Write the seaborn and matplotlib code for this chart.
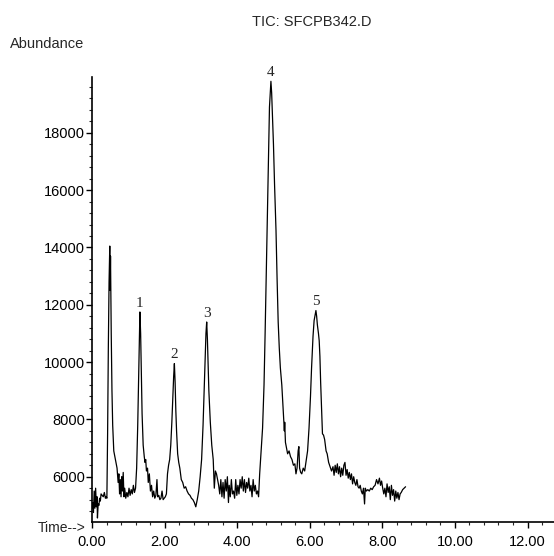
import numpy as np
import pandas as pd
import seaborn as sns
import matplotlib.pyplot as plt
from matplotlib.ticker import MultipleLocator, FormatStrFormatter

# TIC chromatogram (time in min, abundance in counts)
time = [
    0.00, 0.02, 0.04, 0.06, 0.08, 0.10, 0.12, 0.14, 0.15, 0.17, 0.19, 0.21, 0.23, 0.25, 0.28,
    0.31, 0.34, 0.37, 0.39, 0.41, 0.43, 0.45, 0.47, 0.49, 0.50, 0.51, 0.53, 0.55, 0.57, 0.60,
    0.63, 0.66, 0.69, 0.72, 0.74, 0.76, 0.78, 0.80, 0.82, 0.84, 0.86, 0.88, 0.90, 0.93, 0.96,
    0.99, 1.02, 1.05, 1.08, 1.11, 1.14, 1.17, 1.20, 1.23, 1.26, 1.29, 1.31, 1.32, 1.34, 1.36,
    1.38, 1.41, 1.44, 1.46, 1.48, 1.50, 1.53, 1.55, 1.58, 1.61, 1.64, 1.67, 1.70, 1.73, 1.76,
    1.79, 1.81, 1.84, 1.87, 1.90, 1.93, 1.96, 1.99, 2.02, 2.05, 2.08, 2.11, 2.14, 2.17, 2.20,
    2.23, 2.25, 2.27, 2.29, 2.31, 2.33, 2.36, 2.39, 2.42, 2.46, 2.50, 2.54, 2.58, 2.62, 2.66,
    2.70, 2.74, 2.78, 2.82, 2.86, 2.90, 2.94, 2.98, 3.02, 3.06, 3.10, 3.14, 3.16, 3.18, 3.22,
    3.26, 3.30, 3.34, 3.37, 3.40, 3.43, 3.46, 3.49, 3.52, 3.55, 3.58, 3.61, 3.64, 3.67, 3.70,
    3.73, 3.76, 3.78, 3.81, 3.84, 3.87, 3.90, 3.93, 3.96, 3.99, 4.02, 4.05, 4.08, 4.11, 4.14,
    4.17, 4.20, 4.23, 4.26, 4.29, 4.32, 4.35, 4.38, 4.41, 4.44, 4.47, 4.50, 4.53, 4.56, 4.59,
    4.62, 4.66, 4.70, 4.74, 4.77, 4.80, 4.83, 4.86, 4.89, 4.93, 4.95, 4.97, 5.00, 5.03, 5.07,
    5.10, 5.13, 5.16, 5.19, 5.23, 5.26, 5.28, 5.30, 5.31, 5.33, 5.36, 5.39, 5.43, 5.47, 5.51,
    5.55, 5.59, 5.62, 5.65, 5.68, 5.70, 5.72, 5.75, 5.78, 5.82, 5.86, 5.90, 5.94, 5.98, 6.02,
    6.05, 6.09, 6.12, 6.17, 6.19, 6.21, 6.24, 6.26, 6.28, 6.30, 6.33, 6.35, 6.38, 6.41, 6.45,
    6.48, 6.52, 6.56, 6.60, 6.64, 6.67, 6.70, 6.73, 6.76, 6.79, 6.82, 6.85, 6.88, 6.91, 6.94,
    6.97, 7.00, 7.03, 7.06, 7.09, 7.12, 7.15, 7.18, 7.21, 7.24, 7.27, 7.30, 7.33, 7.36, 7.39,
    7.42, 7.45, 7.48, 7.51, 7.53, 7.56, 7.60, 7.64, 7.68, 7.72, 7.76, 7.80, 7.84, 7.88, 7.92,
    7.95, 7.98, 8.01, 8.04, 8.07, 8.10, 8.13, 8.16, 8.19, 8.22, 8.25, 8.28, 8.31, 8.34, 8.37,
    8.40, 8.43, 8.46, 8.49, 8.52, 8.56, 8.60, 8.64,
]
abundance = [
    4900, 5100, 4750, 5500, 4900, 5600, 4950, 5300, 4560, 5050, 5000, 5250, 5150, 5400, 5350,
    5300, 5450, 5250, 5300, 5250, 7500, 10500, 12800, 14050, 12500, 13700, 11000, 9000, 7800, 6900,
    6700, 6500, 6300, 5800, 6100, 5400, 5900, 5300, 6000, 5500, 6150, 5300, 5600, 5250, 5450,
    5300, 5600, 5350, 5550, 5400, 5700, 5450, 5600, 6300, 7800, 9800, 11200, 11750, 11000, 9500,
    8200, 7100, 6700, 6500, 6600, 6200, 6300, 5800, 6100, 5500, 5700, 5300, 5500, 5250, 5350,
    5900, 5300, 5350, 5200, 5250, 5500, 5200, 5250, 5300, 5400, 6100, 6400, 6600, 7100, 7900,
    8900, 9500, 9950, 9300, 8300, 7600, 6800, 6500, 6300, 5900, 5800, 5600, 5650, 5500, 5400,
    5350, 5250, 5200, 5100, 4950, 5200, 5500, 6000, 6600, 7800, 9400, 11000, 11400, 10800, 9000,
    7900, 7100, 6600, 5600, 6200, 6100, 5900, 5700, 5400, 5900, 5300, 5800, 5250, 5900, 5500,
    6000, 5100, 5700, 5300, 5900, 5400, 5500, 5250, 5900, 5350, 5700, 5400, 5900, 5600, 6000,
    5500, 5900, 5450, 5800, 5600, 5950, 5500, 5700, 5300, 5900, 5500, 5700, 5400, 5500, 5300,
    6100, 6900, 7700, 9200, 11000, 13000, 15200, 17200, 18900, 19800, 19400, 18700, 17600, 16200, 14600,
    12900, 11400, 10500, 9800, 9200, 8500, 8000, 7600, 7900, 7200, 7000, 6800, 6900, 6700, 6600,
    6400, 6450, 6100, 6300, 6900, 7050, 6300, 6150, 6100, 6300, 6200, 6550, 6900, 7700, 8800,
    9800, 10900, 11450, 11800, 11600, 11300, 11000, 10750, 10200, 9300, 8200, 7500, 7450, 7300, 6900,
    6800, 6500, 6350, 6200, 6350, 6050, 6400, 6150, 6450, 6100, 6350, 6000, 6300, 6050, 6400,
    6500, 6050, 6250, 5950, 6150, 5900, 6100, 5750, 6000, 5800, 5700, 5900, 5650, 5600, 5700,
    5500, 5400, 5600, 5050, 5600, 5500, 5550, 5500, 5600, 5550, 5650, 5700, 5900, 5750, 5950,
    5700, 5850, 5600, 5400, 5600, 5300, 5750, 5450, 5650, 5200, 5700, 5350, 5550, 5150, 5500,
    5250, 5450, 5200, 5400, 5450, 5550, 5600, 5650,
]

# numbered peaks
peak_labels = ["1", "2", "3", "4", "5"]
peak_times = [1.32, 2.27, 3.16, 4.93, 6.17]

x_ticks = [0, 2, 4, 6, 8, 10, 12]
y_ticks = [6000, 8000, 10000, 12000, 14000, 16000, 18000]

df = pd.DataFrame({"time": time, "abundance": abundance})

sns.set_style("ticks")
plt.rcParams["font.family"] = ["Liberation Sans", "DejaVu Sans"]

fig = plt.figure(figsize=(5.54, 5.56), dpi=100)
ax = fig.add_axes([92 / 554, 1 - 522 / 556, 1 - 92 / 554, (522 - 77) / 556])

sns.lineplot(data=df, x="time", y="abundance", ax=ax, color="black", lw=0.9, estimator=None)

for lab, t in zip(peak_labels, peak_times):
    h = df.loc[(df["time"] - t).abs() < 0.03, "abundance"].max()
    ax.annotate(lab, (t, h), xytext=(0, 1.5), textcoords="offset points",
                ha="center", va="bottom", fontsize=11, family="Liberation Serif")

ax.set_xlim(0, 12.73)
ax.set_ylim(4420, 19950)
ax.set_xticks(x_ticks)
ax.set_yticks(y_ticks)
ax.xaxis.set_major_formatter(FormatStrFormatter("%.2f"))
ax.xaxis.set_minor_locator(MultipleLocator(0.4))
ax.yaxis.set_minor_locator(MultipleLocator(400))
ax.tick_params(axis="both", which="major", direction="out", length=4, width=1,
               labelsize=10.5, colors="black")
ax.tick_params(axis="both", which="minor", direction="out", length=2.2, width=0.8)
ax.tick_params(axis="x", which="major", pad=5)
ax.tick_params(axis="y", which="major", pad=1)
ax.set_xlabel("")
ax.set_ylabel("")
sns.despine(ax=ax)
for s in ["left", "bottom"]:
    ax.spines[s].set_linewidth(1.2)
    ax.spines[s].set_color("black")

fig.text(312 / 554, 1 - 22 / 556, "TIC: SFCPB342.D", ha="center", va="center", fontsize=10.5)
fig.text(10 / 554, 1 - 44 / 556, "Abundance", ha="left", va="center", fontsize=10.5)
fig.text(85 / 554, 1 - 528 / 556, "Time-->", ha="right", va="center", fontsize=10)

fig.savefig("out.png", dpi=100)
